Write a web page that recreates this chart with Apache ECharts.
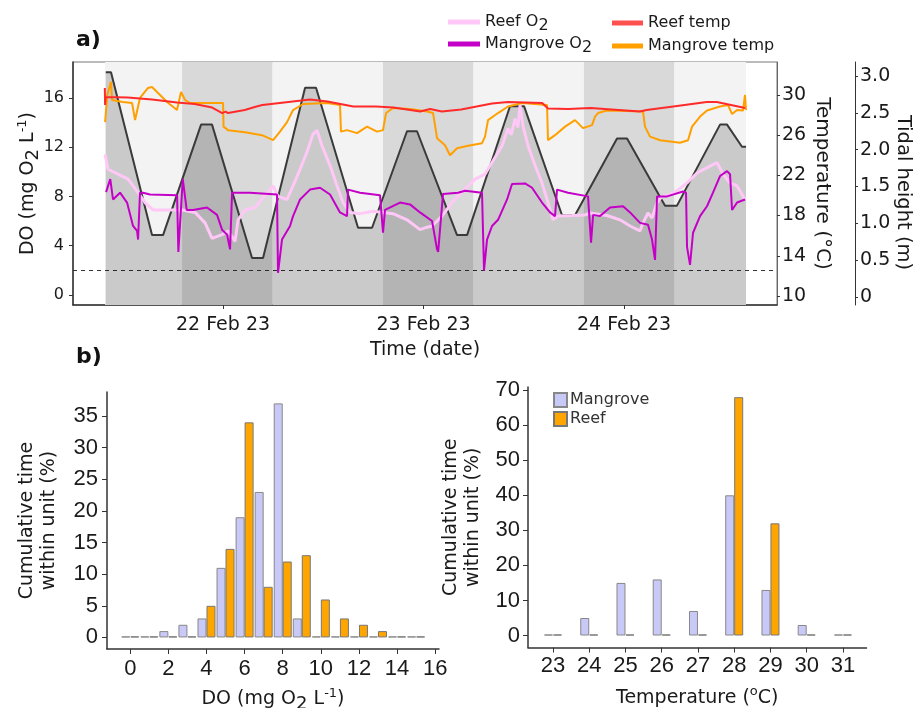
<!DOCTYPE html>
<html><head><meta charset="utf-8">
<script src="https://cdn.jsdelivr.net/npm/echarts@6/dist/echarts.min.js"></script>
<style>html,body{margin:0;padding:0;background:#fff}#c{width:919px;height:708px}</style>
</head><body><div id="c"></div>
<script>
// ---------- DATA (panel a) : time in hours since 21 Feb 2023 00:00 ----------
const dateTicks = [24, 48, 72];
const dateLabels = ['22 Feb 23', '23 Feb 23', '24 Feb 23'];
const dayBands = [[9.88, 19.1], [29.9, 43.15], [53.93, 67.2], [78.0, 86.6]];
const nightBands = [[19.1, 29.9], [43.15, 53.93], [67.2, 78.0]];
const doTicks = [0, 4, 8, 12, 16];
const tempTicks = [10, 14, 18, 22, 26, 30];
const tideTicks = [0, 0.5, 1, 1.5, 2, 2.5, 3];
const hypoxiaThreshold = 2;

const tide = [[9.96,3.05],[10.59,3.05],[15.5,0.84],[16.82,0.84],[21.37,2.34],[22.68,2.34],[27.47,0.53],[28.79,0.53],
  [33.82,2.84],[35.13,2.84],[40.16,0.94],[41.84,0.94],[46.02,2.25],[47.22,2.25],[52.01,0.84],[53.21,0.84],
  [58.35,2.59],[60.03,2.59],[64.58,1.11],[66.13,1.11],[71.16,2.15],[72.36,2.15],[76.91,1.24],[78.34,1.24],
  [83.49,2.34],[84.33,2.34],[86.12,2.04],[86.6,2.04]];

const reefTemp = [[9.85,30.7],[9.88,29.0],[9.95,29.8],[12.6,29.75],[15.5,29.55],[18.5,29.25],[20.6,29.1],[22.7,28.75],
  [23.9,28.2],[24.3,28.35],[24.6,28.2],[26.6,28.5],[27.8,28.8],[28.7,29.0],[30.8,29.2],[34.4,29.55],[36.5,29.35],
  [39.6,28.85],[42.3,28.85],[44.4,28.75],[47.6,28.35],[48.8,28.6],[50.2,28.35],[52.5,28.55],[56.2,29.15],[58.1,29.3],
  [62.2,29.2],[62.9,28.65],[65.3,28.6],[68.0,28.7],[73.9,28.35],[74.7,28.5],[77.9,28.85],[81.9,29.3],[83.1,29.3],[86.5,28.7]];

const mangroveTemp = [[9.88,27.3],[10.14,30.0],[10.59,31.3],[10.71,29.5],[12.0,29.3],[13.11,29.2],[13.47,27.5],[14.06,29.7],
  [15.02,30.7],[15.5,30.8],[16.46,30.0],[17.3,29.3],[18.49,28.5],[18.97,30.3],[19.45,29.5],[20.05,29.2],[24.0,29.2],
  [24.06,26.85],[24.6,26.5],[26.63,26.3],[28.67,26.0],[29.99,25.5],[30.82,26.35],[31.66,27.3],[32.38,28.5],[33.58,29.1],
  [36.45,29.2],[38.0,29.0],[38.12,26.35],[38.84,26.5],[40.04,26.2],[41.24,26.85],[42.43,26.35],[43.15,26.5],[43.51,28.2],
  [44.35,28.7],[46.38,28.6],[48.42,28.35],[49.14,28.2],[49.62,25.7],[50.57,25.0],[51.17,24.0],[52.01,24.7],[53.33,24.95],
  [55.0,25.2],[55.36,25.85],[55.72,27.5],[56.92,28.2],[58.11,28.85],[59.79,29.2],[62.78,29.0],[62.9,25.5],[63.74,26.0],
  [64.94,26.85],[66.13,27.5],[67.09,26.7],[68.17,27.0],[68.53,27.85],[68.89,28.2],[69.96,28.45],[74.27,28.35],[74.51,26.85],
  [75.11,25.85],[76.31,25.5],[78.7,25.25],[79.66,25.5],[80.14,26.85],[81.1,27.85],[81.93,28.45],[83.49,28.85],[84.45,29.0],
  [84.93,28.1],[85.53,28.5],[86.24,28.45],[86.48,30.0],[86.6,28.5]];

const reefO2 = [[9.88,11.4],[10.23,10.2],[11.43,9.8],[12.63,9.4],[13.83,8.3],[14.66,7.5],[15.62,6.9],[17.9,6.9],[19.09,6.9],
  [20.65,6.7],[21.85,5.85],[22.68,4.6],[23.88,4.9],[24.6,5.2],[25.44,4.35],[25.8,6.1],[26.63,6.9],[27.83,7.1],[28.67,7.8],
  [29.99,8.85],[30.58,8.0],[31.66,7.75],[32.38,8.85],[33.22,10.2],[34.05,11.6],[34.77,13.05],[35.25,13.35],[35.85,12.1],
  [36.81,10.5],[37.65,8.85],[38.36,7.5],[39.2,6.7],[40.4,6.6],[41.96,6.8],[44.35,6.6],[46.02,6.1],[47.58,5.3],[48.42,5.5],
  [49.02,5.6],[50.21,6.4],[51.41,7.5],[52.97,8.6],[54.16,9.4],[55.36,9.8],[56.2,10.75],[57.4,12.1],[58.11,13.5],[58.5,13.0],
  [58.95,14.3],[59.3,13.6],[59.55,15.4],[59.91,13.7],[60.51,12.1],[61.35,10.5],[62.18,9.1],[62.9,7.5],[63.5,6.1],[64.1,6.4],
  [65.78,6.45],[67.33,6.5],[67.93,6.65],[69.96,6.45],[71.52,6.1],[72.72,5.6],[73.91,5.2],[74.27,5.85],[74.87,6.65],[75.35,6.25],
  [75.95,7.5],[76.55,8.0],[77.51,8.15],[78.34,8.45],[79.54,9.1],[80.74,9.9],[82.29,10.45],[83.13,10.75],[83.85,9.8],
  [84.69,9.1],[85.53,8.85],[86.48,7.75]];

const mangroveO2 = [[10.0,8.35],[10.5,9.4],[10.83,7.75],[11.67,8.3],[12.51,7.5],[13.23,5.6],[13.71,5.2],[13.83,4.5],[14.06,8.3],
  [14.42,8.3],[15.26,8.15],[18.5,8.1],[18.65,3.5],[19.18,9.4],[19.65,6.9],[20.41,6.9],[22.08,7.1],[23.28,6.5],[23.88,5.3],
  [24.48,4.9],[24.84,3.7],[25.08,8.3],[27.23,8.3],[30.46,8.15],[30.58,1.8],[31.06,4.5],[32.02,5.6],[32.38,6.4],[33.22,7.75],
  [34.41,8.55],[35.61,8.7],[36.81,8.15],[38.0,6.7],[38.84,6.4],[38.96,8.55],[40.4,8.3],[42.79,8.1],[43.15,5.05],[43.39,6.9],
  [45.19,7.5],[46.38,7.35],[47.58,6.7],[49.02,6.0],[49.62,3.7],[49.75,3.5],[50.33,8.2],[52.13,8.3],[52.97,8.45],[55.0,8.3],
  [55.24,2.0],[55.6,4.5],[56.2,5.6],[56.92,6.1],[58.0,7.75],[58.59,9.0],[60.15,9.05],[60.99,8.7],[62.18,7.5],[63.14,6.7],
  [63.74,6.4],[63.98,8.55],[65.3,8.3],[67.69,8.0],[68.05,4.25],[68.3,6.5],[69.13,6.4],[70.32,7.1],[71.88,7.2],[72.72,6.7],
  [73.91,5.85],[74.87,5.7],[75.35,4.5],[75.71,2.85],[75.95,8.0],[77.15,8.0],[79.06,8.4],[79.42,8.3],[79.54,3.9],[79.9,2.45],
  [80.26,5.05],[81.1,6.4],[81.93,7.2],[82.65,8.3],[83.49,9.65],[84.33,10.05],[84.69,9.8],[84.93,6.9],[85.53,7.5],[86.48,7.75]];

// ---------- DATA (panel b) ----------
const doBins = [0, 1, 2, 3, 4, 5, 6, 7, 8, 9, 10, 11, 12, 13, 14, 15];
const doMangrove = [0, 0, 1, 2, 3, 11, 19, 23, 37, 3, 0, 0, 0, 0, 0, 0];
const doReef = [0, 0, 0, 0, 5, 14, 34, 8, 12, 13, 6, 3, 2, 1, 0, 0];
const doHistTicks = [0, 2, 4, 6, 8, 10, 12, 14, 16];
const doPctTicks = [0, 5, 10, 15, 20, 25, 30, 35];
const tempBins = [23, 24, 25, 26, 27, 28, 29, 30, 31];
const tempMangrove = [0, 5, 15, 16, 7, 40, 13, 3, 0];
const tempReef = [0, 0, 0, 0, 0, 68, 32, 0, 0];
const tempPctTicks = [0, 10, 20, 30, 40, 50, 60, 70];

// ---------- styling ----------
const F = "'DejaVu Sans', Verdana, sans-serif";
const FA = "'Liberation Sans', Arial, sans-serif";
const TXT = '#1a1a1a';
const C = { reefO2: '#ffc8f6', mangO2: '#c400c8', reefT: '#ff2a2a', mangT: '#ffa000', lav: '#c9c9f7', org: '#ffa500' };

const pair = (xs, ys) => xs.map((x, i) => [x, ys[i]]);
const nameRich = {
  n: { fontSize: 19, fontFamily: F, color: TXT },
  s: { fontSize: 18, fontFamily: F, color: TXT, padding: [9, 0, 0, 0] },
  p: { fontSize: 13, fontFamily: F, color: TXT, padding: [0, 0, 12, 0] }
};

const chart = echarts.init(document.getElementById('c'), null, { renderer: 'canvas' });

const bandData = dayBands.map(b => [{ xAxis: b[0], itemStyle: { color: '#f3f3f3' } }, { xAxis: b[1] }])
  .concat(nightBands.map(b => [{ xAxis: b[0], itemStyle: { color: '#d9d9d9' } }, { xAxis: b[1] }]));

const legendFmt = name => name.endsWith(' O2') ? '{t|' + name.slice(0, -1) + '}{s|2}' : '{t|' + name + '}';
const legendRich = {
  t: { fontSize: 16, fontFamily: F, color: TXT },
  s: { fontSize: 16, fontFamily: F, color: TXT, padding: [8, 0, 0, 0] }
};
const noZero = (o) => Object.assign({ onZero: false, show: true }, o);

const option = {
  animation: false,
  backgroundColor: '#fff',
  graphic: [
    { type: 'text', left: 76, top: 29, style: { text: 'a)', font: "bold 22px 'DejaVu Sans'", fill: '#111' } },
    { type: 'text', left: 76, top: 346, style: { text: 'b)', font: "bold 22px 'DejaVu Sans'", fill: '#111' } }
  ],
  legend: [
    { left: 443, top: 9, orient: 'vertical', itemGap: 2, icon: 'rect', itemWidth: 32, itemHeight: 5,
      data: ['Reef O2', 'Mangrove O2'], formatter: legendFmt, textStyle: { rich: legendRich, fontFamily: F } },
    { left: 607, top: 10, orient: 'vertical', itemGap: 7, icon: 'rect', itemWidth: 31, itemHeight: 5,
      data: ['Reef temp', 'Mangrove temp'], formatter: legendFmt, textStyle: { rich: legendRich, fontFamily: F } },
    { left: 548, top: 387, orient: 'vertical', itemGap: 3, icon: 'rect', itemWidth: 13, itemHeight: 14,
      data: ['Mangrove', 'Reef'], textStyle: { fontSize: 16, fontFamily: F, color: '#333', padding: [0, 0, 0, -2] } }
  ],
  grid: [
    { left: 73, top: 62, width: 704, height: 243, show: true, borderColor: '#777', borderWidth: 1, outerBoundsMode: 'none', containLabel: false },
    { left: 107, top: 392, width: 332, height: 257, outerBoundsMode: 'none', containLabel: false },
    { left: 528, top: 387, width: 338.5, height: 260.5, outerBoundsMode: 'none', containLabel: false }
  ],
  xAxis: [
    { type: 'value', gridIndex: 0, min: 6.04, max: 90.31, splitLine: { show: false },
      axisLine: noZero({ lineStyle: { color: '#333', width: 1.5 } }),
      axisTick: { customValues: dateTicks, length: 4, lineStyle: { color: '#333' } },
      axisLabel: { customValues: dateTicks, formatter: v => dateLabels[dateTicks.indexOf(v)], fontSize: 19, fontFamily: F, color: TXT, margin: 11 },
      name: 'Time (date)', nameLocation: 'middle', nameGap: 36, nameMoveOverlap: false,
      nameTextStyle: { fontSize: 19, fontFamily: F, color: TXT } },
    { type: 'value', gridIndex: 1, min: -1.22, max: 16.2, splitLine: { show: false },
      axisLine: noZero({ lineStyle: { color: '#333', width: 1.5 } }),
      axisTick: { customValues: doHistTicks, length: 5, lineStyle: { color: '#333' } },
      axisLabel: { customValues: doHistTicks, fontSize: 22, fontFamily: FA, color: TXT, margin: 9 },
      name: '{n|DO (mg O}{s|2}{n| L}{p|-1}{n|)}', nameLocation: 'middle', nameGap: 37, nameMoveOverlap: false,
      nameTextStyle: { rich: nameRich } },
    { type: 'value', gridIndex: 2, min: 22.31, max: 31.65, splitLine: { show: false },
      axisLine: noZero({ lineStyle: { color: '#333', width: 1.5 } }),
      axisTick: { customValues: tempBins, length: 5, lineStyle: { color: '#333' } },
      axisLabel: { customValues: tempBins, fontSize: 22, fontFamily: FA, color: TXT, margin: 7 },
      name: '{n|Temperature (}{p|o}{n|C)}', nameLocation: 'middle', nameGap: 38, nameMoveOverlap: false,
      nameTextStyle: { rich: nameRich } }
  ],
  yAxis: [
    { type: 'value', gridIndex: 0, min: -0.81, max: 18.9, position: 'left', splitLine: { show: false },
      axisLine: noZero({ lineStyle: { color: '#333', width: 1.5 } }),
      axisTick: { show: true, customValues: doTicks, length: 4, lineStyle: { color: '#333' } },
      axisLabel: { customValues: doTicks, fontSize: 16, fontFamily: F, color: TXT, margin: 9 },
      name: '{n|DO (mg O}{s|2}{n| L}{p|-1}{n|)}', nameLocation: 'middle', nameRotate: 90, nameGap: 31, nameMoveOverlap: false,
      nameTextStyle: { rich: nameRich } },
    { type: 'value', gridIndex: 0, min: 9.1, max: 33.28, position: 'right', splitLine: { show: false },
      axisLine: noZero({ lineStyle: { color: '#666', width: 1 } }),
      axisTick: { show: true, customValues: tempTicks, length: 3, lineStyle: { color: '#333' } },
      axisLabel: { customValues: tempTicks, fontSize: 19, fontFamily: F, color: TXT, margin: 5 },
      name: 'Temperature (°C)', nameLocation: 'middle', nameRotate: -90, nameGap: 35, nameMoveOverlap: false,
      nameTextStyle: { fontSize: 20, fontFamily: F, color: TXT } },
    { type: 'value', gridIndex: 0, min: -0.109, max: 3.19, position: 'right', offset: 78, splitLine: { show: false },
      axisLine: noZero({ lineStyle: { color: '#333', width: 1 } }),
      axisTick: { show: true, customValues: tideTicks, length: 3, lineStyle: { color: '#333' } },
      axisLabel: { customValues: tideTicks, formatter: v => v === 0 ? '0' : v.toFixed(1), fontSize: 19, fontFamily: F, color: TXT, margin: 5 },
      name: 'Tidal height (m)', nameLocation: 'middle', nameRotate: -90, nameGap: 38, nameMoveOverlap: false,
      nameTextStyle: { fontSize: 19.5, fontFamily: F, color: TXT, padding: [0, 0, 0, 18] } },
    { type: 'value', gridIndex: 1, min: -1.83, max: 38.8, splitLine: { show: false },
      axisLine: noZero({ lineStyle: { color: '#333', width: 1.5 } }),
      axisTick: { show: true, customValues: doPctTicks, length: 5, lineStyle: { color: '#333' } },
      axisLabel: { customValues: doPctTicks, fontSize: 22, fontFamily: FA, color: TXT, margin: 9 },
      name: 'Cumulative time\nwithin unit (%)', nameLocation: 'middle', nameRotate: 90, nameGap: 47, nameMoveOverlap: false,
      nameTextStyle: { fontSize: 19, lineHeight: 22, fontFamily: F, color: TXT } },
    { type: 'value', gridIndex: 2, min: -3.42, max: 70.9, splitLine: { show: false },
      axisLine: noZero({ lineStyle: { color: '#333', width: 1.5 } }),
      axisTick: { show: true, customValues: tempPctTicks, length: 5, lineStyle: { color: '#333' } },
      axisLabel: { customValues: tempPctTicks, fontSize: 22, fontFamily: FA, color: TXT, margin: 8 },
      name: 'Cumulative time\nwithin unit (%)', nameLocation: 'middle', nameRotate: 90, nameGap: 44, nameMoveOverlap: false,
      nameTextStyle: { fontSize: 19, lineHeight: 22, fontFamily: F, color: TXT } }
  ],
  series: [
    { name: 'Tide', type: 'line', xAxisIndex: 0, yAxisIndex: 2, data: tide, symbol: 'none', z: 2,
      lineStyle: { color: '#3a3a3a', width: 2 }, areaStyle: { color: 'rgba(0,0,0,0.24)', origin: 'start' },
      markArea: { silent: true, z: 1, data: bandData } },
    { name: 'Reef O2', type: 'line', xAxisIndex: 0, yAxisIndex: 0, data: reefO2, symbol: 'none', z: 3,
      itemStyle: { color: C.reefO2 }, lineStyle: { color: C.reefO2, width: 3 } },
    { name: 'Mangrove O2', type: 'line', xAxisIndex: 0, yAxisIndex: 0, data: mangroveO2, symbol: 'none', z: 4,
      itemStyle: { color: C.mangO2 }, lineStyle: { color: C.mangO2, width: 2 },
      markLine: { silent: true, z: 2, symbol: ['none', 'none'], label: { show: false },
        lineStyle: { type: [4, 4], color: '#333', width: 1 }, data: [{ yAxis: hypoxiaThreshold }] } },
    { name: 'Mangrove temp', type: 'line', xAxisIndex: 0, yAxisIndex: 1, data: mangroveTemp, symbol: 'none', z: 5,
      itemStyle: { color: C.mangT }, lineStyle: { color: C.mangT, width: 2 } },
    { name: 'Reef temp', type: 'line', xAxisIndex: 0, yAxisIndex: 1, data: reefTemp, symbol: 'none', z: 6,
      itemStyle: { color: '#ff5050' }, lineStyle: { color: C.reefT, width: 2 } },
    { name: 'Mangrove', type: 'bar', xAxisIndex: 1, yAxisIndex: 3, data: pair(doBins, doMangrove), barWidth: 9, barGap: '0%', barMinHeight: 1,
      itemStyle: { color: C.lav, borderColor: '#888', borderWidth: 1 } },
    { name: 'Reef', type: 'bar', xAxisIndex: 1, yAxisIndex: 3, data: pair(doBins, doReef), barWidth: 9, barGap: '0%', barMinHeight: 1,
      itemStyle: { color: C.org, borderColor: '#777', borderWidth: 1 } },
    { name: 'Mangrove', type: 'bar', xAxisIndex: 2, yAxisIndex: 4, data: pair(tempBins, tempMangrove), barWidth: 9, barGap: '0%', barMinHeight: 1,
      itemStyle: { color: C.lav, borderColor: '#888', borderWidth: 1 } },
    { name: 'Reef', type: 'bar', xAxisIndex: 2, yAxisIndex: 4, data: pair(tempBins, tempReef), barWidth: 9, barGap: '0%', barMinHeight: 1,
      itemStyle: { color: C.org, borderColor: '#777', borderWidth: 1 } }
  ]
};
chart.setOption(option);
</script>
</body></html>
